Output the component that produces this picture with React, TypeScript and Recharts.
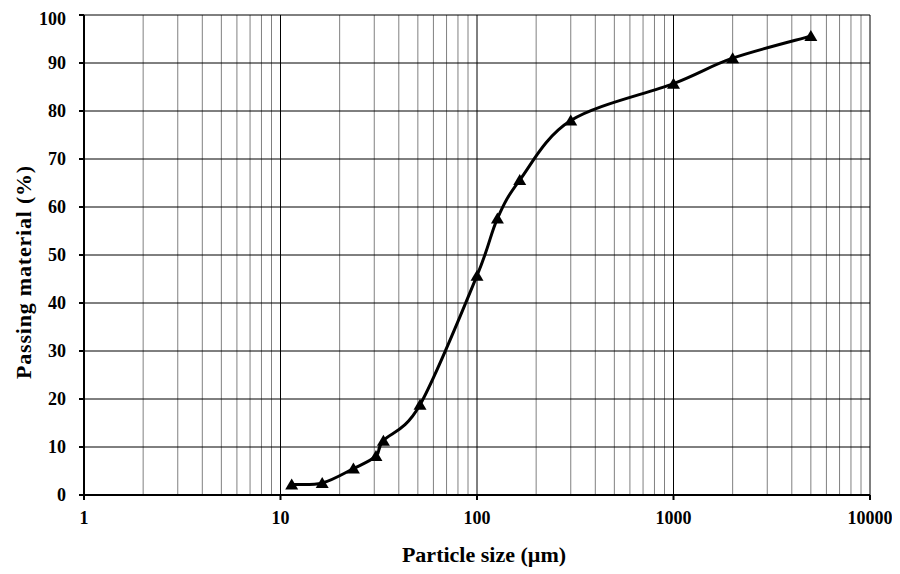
import React from 'react';
import { LineChart, Line, XAxis, YAxis, ReferenceLine, Label } from 'recharts';

const sizes = [11.4, 16.3, 23.5, 30.6, 33.4, 51.3, 100, 127, 165, 300, 1000, 2000, 5000];
const passing = [2.2, 2.5, 5.5, 8.1, 11.3, 18.8, 45.7, 57.6, 65.6, 78.0, 85.7, 91.0, 95.6];
const xTicks = [1, 10, 100, 1000, 10000];
const yTicks = [0, 10, 20, 30, 40, 50, 60, 70, 80, 90, 100];
const decades = [1, 10, 100, 1000];
const minorMultipliers = [2, 3, 4, 5, 6, 7, 8, 9];

const data = sizes.map((s, i) => ({ size: s, pass: passing[i] }));
const minorLines = decades.flatMap((d) => minorMultipliers.map((m) => m * d));
const majorLines = [10, 100, 1000, 10000];
const hLines = yTicks.filter((t) => t > 0);

const font = '"Liberation Serif", "Times New Roman", serif';

// Excel-like smoothed line (Catmull-Rom style Bezier through the points)
const smoothCurve: any = (context: any) => {
  let pts: number[][] = [];
  return {
    areaStart() {},
    areaEnd() {},
    lineStart() {
      pts = [];
    },
    point(x: number, y: number) {
      pts.push([+x, +y]);
    },
    lineEnd() {
      if (!pts.length) return;
      context.moveTo(pts[0][0], pts[0][1]);
      for (let i = 0; i < pts.length - 1; i++) {
        const p0 = pts[i - 1] || pts[i];
        const p1 = pts[i];
        const p2 = pts[i + 1];
        const p3 = pts[i + 2] || p2;
        context.bezierCurveTo(
          p1[0] + (p2[0] - p0[0]) / 6,
          p1[1] + (p2[1] - p0[1]) / 6,
          p2[0] - (p3[0] - p1[0]) / 6,
          p2[1] - (p3[1] - p1[1]) / 6,
          p2[0],
          p2[1]
        );
      }
    },
  };
};

const Tri = (props: any) => {
  const { cx, cy, index } = props;
  if (cx == null || cy == null) return null;
  const w = 6.5;
  return (
    <polygon
      key={'t' + index}
      points={`${cx - w},${cy + 5} ${cx + w},${cy + 5} ${cx},${cy - 6}`}
      fill="#000"
    />
  );
};

const YTitle = (props: any) => {
  const vb = props.viewBox || {};
  const x = 15;
  const y = (vb.y ?? 7) + (vb.height ?? 480) / 2 + 17;
  return (
    <text
      x={x}
      y={y}
      transform={`rotate(-90, ${x}, ${y})`}
      textAnchor="middle"
      dominantBaseline="central"
      fill="#000"
      fontFamily={font}
      fontWeight="bold"
      fontSize={22}
      letterSpacing={0.8}
    >
      Passing material (%)
    </text>
  );
};

const XTitle = (props: any) => {
  const vb = props.viewBox || {};
  const x = (vb.x ?? 76) + (vb.width ?? 786) / 2 + 7;
  const y = 554;
  return (
    <text
      x={x}
      y={y}
      textAnchor="middle"
      fill="#000"
      fontFamily={font}
      fontWeight="bold"
      fontSize={22}
    >
      Particle size (µm)
    </text>
  );
};

export default function App() {
  return (
    <LineChart
      width={892}
      height={566}
      data={data}
      margin={{ top: 7, right: 30, bottom: 0, left: 0 }}
    >
      {minorLines.map((v) => (
        <ReferenceLine key={'m' + v} x={v} stroke="#808080" strokeWidth={1} />
      ))}
      {majorLines.map((v) => (
        <ReferenceLine key={'M' + v} x={v} stroke="#000" strokeWidth={1} />
      ))}
      {hLines.map((v) => (
        <ReferenceLine key={'h' + v} y={v} stroke="#000" strokeWidth={1} />
      ))}
      <XAxis
        dataKey="size"
        type="number"
        scale="log"
        domain={[1, 10000]}
        ticks={xTicks}
        allowDataOverflow
        height={79}
        stroke="#000"
        strokeWidth={2}
        tickSize={5}
        tick={{ fill: '#000', fontFamily: font, fontWeight: 'bold', fontSize: 18 }}
        tickMargin={11}
      >
        <Label content={XTitle} />
      </XAxis>
      <YAxis
        type="number"
        domain={[0, 100]}
        ticks={yTicks}
        width={76}
        stroke="#000"
        strokeWidth={2}
        tickSize={5}
        tickMargin={13}
        tick={{ fill: '#000', fontFamily: font, fontWeight: 'bold', fontSize: 18 }}
      >
        <Label content={YTitle} />
      </YAxis>
      <Line
        dataKey="pass"
        type={smoothCurve}
        stroke="#000"
        strokeWidth={3}
        dot={Tri}
        activeDot={false}
        isAnimationActive={false}
      />
    </LineChart>
  );
}
